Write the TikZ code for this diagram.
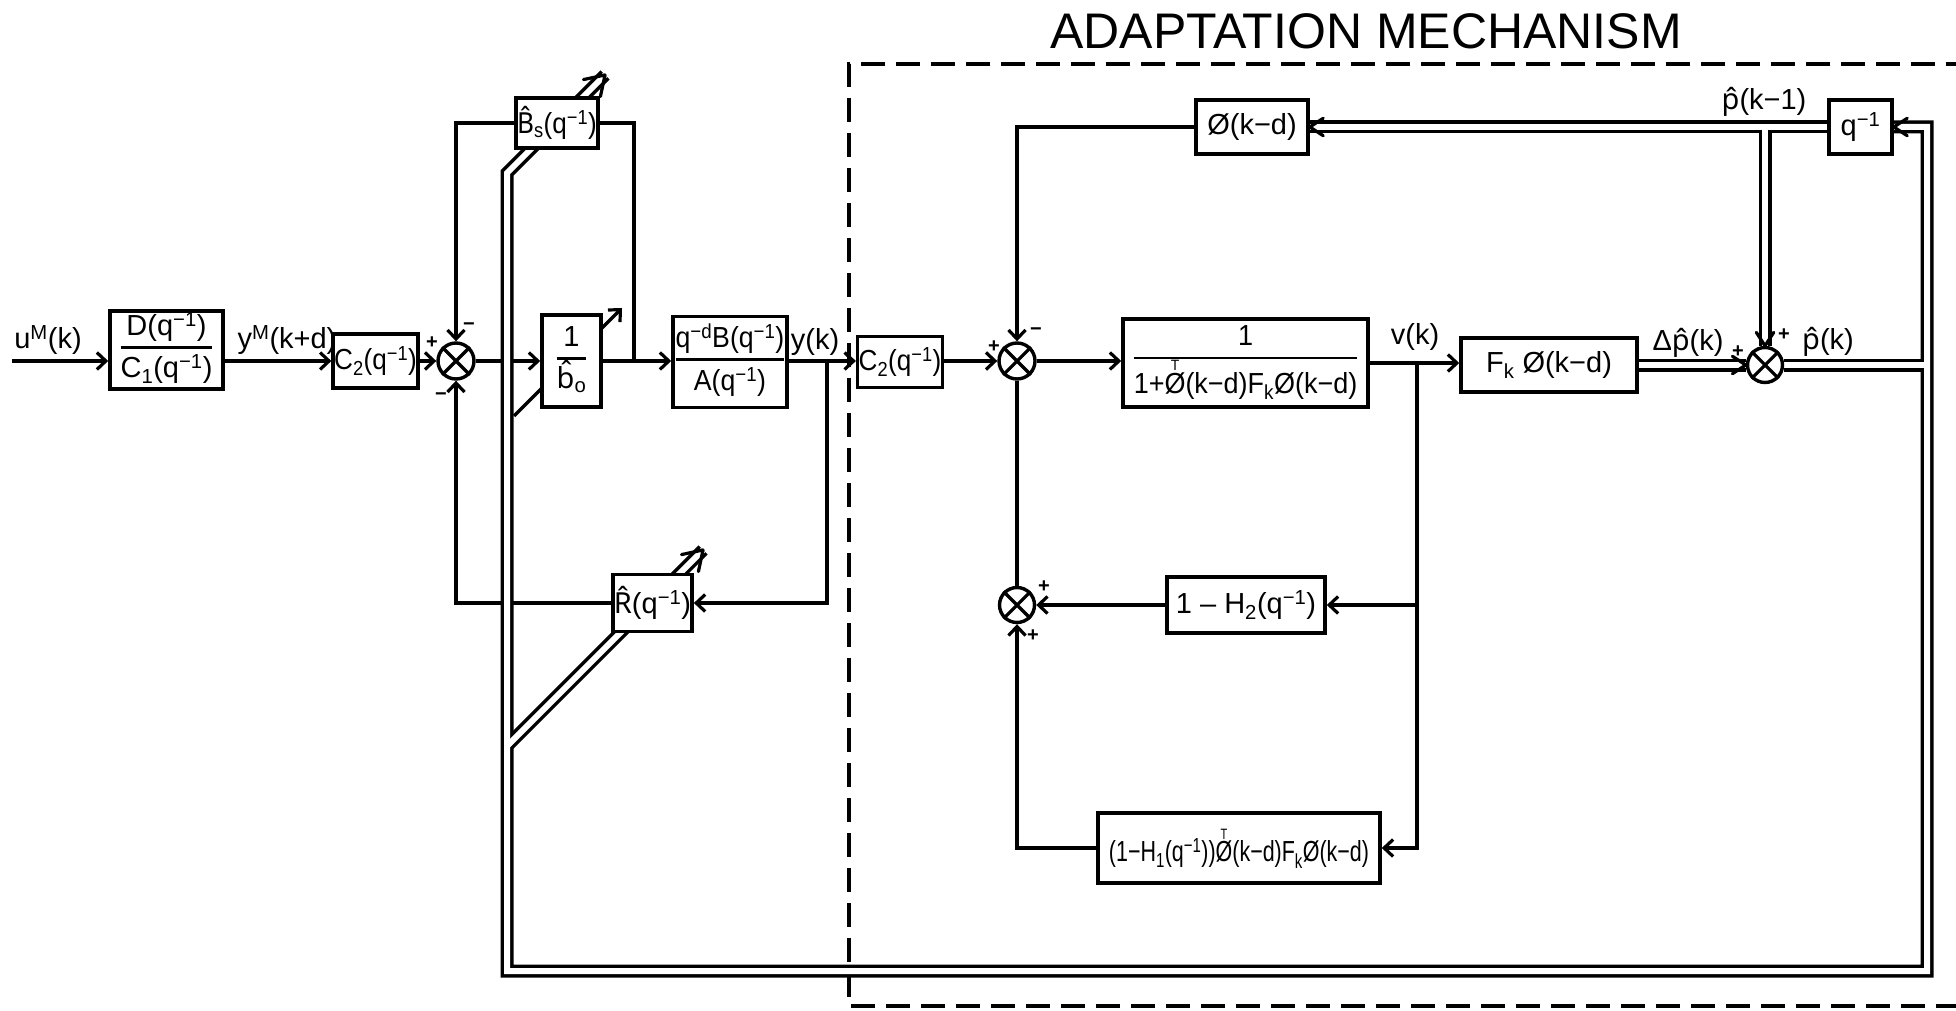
\documentclass[tikz,border=0pt]{standalone}
\usepackage{fontspec}
\setmainfont{Liberation Sans}
\newfontfamily\accfont{Noto Sans}
\usetikzlibrary{arrows.meta,calc,backgrounds}
\setlength\arrayrulewidth{2.8pt}
\newcommand\fr[2]{\begin{tabular}{@{}c@{}}#1\\[1pt]\hline\rule{0pt}{1.0em}#2\end{tabular}}
\newcommand\hatt[1]{{\accfont #1\char"0302}}
\newcommand\inv{\textsuperscript{−1}}
\newcommand\phT{\ensuremath{\stackrel{\mbox{\fontsize{15}{15}\selectfont T}}{\mbox{Ø}}}}
\newcommand\barb[3]{\draw[line width=3.2pt, line cap=round] (#1) -- ++({#2+180+33}:#3) (#1) -- ++({#2+180-33}:#3);}
\tikzset{
  blk/.style={draw, line width=3.6pt, fill=white, inner sep=1pt, font=\fontsize{29}{33}\selectfont},
  sumn/.style={draw, circle, line width=3.4pt, minimum size=36pt, inner sep=0pt, fill=white},
  wire/.style={line width=3.2pt},
  arr/.style={wire, -{Straight Barb[length=9pt,width=17pt]}},
  lbl/.style={font=\fontsize{29}{33}\selectfont, inner sep=0pt},
  sgn/.style={font=\fontsize{20}{20}\selectfont\bfseries, inner sep=0pt},
  dblk/.style={line width=13pt, line join=miter, line cap=butt},
  dblw/.style={white, line width=6pt, line join=miter, line cap=butt},
}
\begin{document}
\begin{tikzpicture}[x=1pt,y=-1pt]
\useasboundingbox (0,0) rectangle (1956,1011);
% title
\node[font=\fontsize{50}{50}\selectfont, inner sep=0pt] (title) at (1366,31) {ADAPTATION MECHANISM};

% blocks
\node[blk, minimum width=113pt, minimum height=70pt] (DC) at (166.5,350) {\fr{D(q\inv)}{C\textsubscript{1}(q\inv)}};
\node[blk, minimum width=75pt, minimum height=54pt] (C2a) at (375.5,361) {\scalebox{0.9}[1]{C\textsubscript{2}(q\inv)}};
\node[sumn] (S1) at (456,361) {};
\node[blk, minimum width=59pt, minimum height=92pt] (binv) at (571.5,361) {\fr{1}{\hatt{b}\textsubscript{o}}};
\node[blk, minimum width=78pt, minimum height=50pt] (Bs) at (557,123) {\scalebox{0.9}[1]{\hatt{B}\textsubscript{s}(q\inv)}};
\node[blk, minimum width=114pt, minimum height=91pt] (P) at (730,362) {\scalebox{0.92}[1]{\fr{q\textsuperscript{−d}B(q\inv)}{A(q\inv)}}};
\node[blk, minimum width=79pt, minimum height=57pt] (R) at (652.5,603) {\hatt{R}(q\inv)};
\node[blk, minimum width=76pt, minimum height=51pt] (C2b) at (900,362) {\scalebox{0.9}[1]{C\textsubscript{2}(q\inv)}};
\node[sumn] (S2) at (1017,361) {};
\node[blk, minimum width=245pt, minimum height=88pt] (G) at (1245.5,363) {\scalebox{0.93}[1]{\fr{1}{1+\phT(k−d)F\textsubscript{k}Ø(k−d)}}};
\node[blk, minimum width=176pt, minimum height=54pt] (Fk) at (1549,365) {F\textsubscript{k} Ø(k−d)};
\node[sumn, minimum size=35pt] (S4) at (1765,365) {};
\node[blk, minimum width=112pt, minimum height=54pt] (phi) at (1252,127) {Ø(k−d)};
\node[blk, minimum width=63pt, minimum height=54pt] (q) at (1860.5,127) {q\textsuperscript{−1}};
\node[blk, minimum width=158pt, minimum height=56pt] (H2) at (1246,605) {1 – H\textsubscript{2}(q\inv)};
\node[blk, minimum width=282pt, minimum height=70pt] (H1) at (1239,848) {\scalebox{0.74}[1]{(1−H\textsubscript{1}(q\inv))\phT(k−d)F\textsubscript{k}Ø(k−d)}};
\node[sumn, minimum size=35pt] (S3) at (1017,605) {};

% crosses in summing junctions
\foreach \s in {S1,S2,S3,S4}{
  \draw[line width=3.2pt] (\s.north east) -- (\s.south west) (\s.north west) -- (\s.south east);
}

% labels
\node[lbl] (lu) at (48,340) {u\textsuperscript{M}(k)};
\node[lbl] (lym) at (287,340) {y\textsuperscript{M}(k+d)};
\node[lbl] (lyk) at (815,342) {y(k)};
\node[lbl] (lvk) at (1415,337) {v(k)};
\node[lbl] (ldp) at (1688,343) {Δ\hatt{p}(k)};
\node[lbl] (lpk) at (1828,342) {\hatt{p}(k)};
\node[lbl] (lpk1) at (1764,102) {\hatt{p}(k−1)};

% signs
\node[sgn] at (432,343) {+};
\node[sgn] at (469,327) {−};
\node[sgn] at (441,397) {−};
\node[sgn] at (994,347) {+};
\node[sgn] at (1036,332) {−};
\node[sgn] at (1044,587) {+};
\node[sgn] at (1033,636) {+};
\node[sgn] at (1738,352) {+};
\node[sgn] at (1784,335) {+};

\begin{pgfonlayer}{background}
  % dashed frame of the adaptation mechanism
  \draw[line width=3.8pt, dash pattern=on 24pt off 11pt] (1970,64) -- (849,64) -- (849,1006) -- (1970,1006);

  % single connectors
  \coordinate (uin) at (12,361);
  \draw[arr] (uin) -- (DC.west |- uin);
  \draw[arr] (DC.east |- uin) -- (C2a.west |- uin);
  \draw[arr] (C2a.east |- uin) -- (S1.west);
  \draw[arr] (S1.east) -- (binv.west |- S1.east);
  \draw[arr] (binv.east |- S1) -- (P.west |- S1);
  \coordinate (jB) at (634,361);
  \draw[wire] (jB) |- (Bs.east);
  \draw[arr] (Bs.west) -| (S1.north);
  \draw[arr] (P.east |- S1) -- (C2b.west |- S1);
  \coordinate (jY) at (827,361);
  \draw[arr] (jY) |- (R.east);
  \draw[arr] (R.west) -| (S1.south);
  \draw[arr] (C2b.east |- S1) -- (S2.west);
  \draw[arr] (S2.east) -- (G.west |- S2);
  \draw[arr] (G.east) -- (Fk.west |- G.east);
  \coordinate (jV) at (1417,363);
  \draw[arr] (jV) |- (H1.east);
  \draw[arr] (jV |- H2.east) -- (H2.east);
  \draw[arr] (H2.west) -- (S3.east);
  \draw[arr] (H1.west) -| (S3.south);
  \draw[wire] (S3.north) -- (S2.south);
  \draw[arr] (phi.west) -| (S2.north);

  % double (parameter) lines
  \coordinate (cTR) at (1927,127);
  \coordinate (cBR) at (1927,971);
  \coordinate (cBL) at (507,971);
  \coordinate (cK) at (507,173);
  \coordinate (tipB) at (605,75);
  \coordinate (cR0) at (507,746);
  \coordinate (tipR) at (703,550);
  \coordinate (cJ) at (1765,127);
  \coordinate (cT) at (1927,365);
  \foreach \st in {dblk,dblw}{
    \draw[\st] (q.west) -- (phi.east);
    \draw[\st] (cJ) -- (S4.north);
    \draw[\st] (Fk.east |- S4) -- (S4.west);
    \draw[\st] (S4.east) -- (cT);
    \draw[\st] (q.east) -- (cTR) -- (cBR) -- (cBL) -- (cK) -- (tipB);
    \draw[\st] (cR0) -- (tipR);
  }
  \coordinate (adj0) at (514,416);
  \coordinate (adj1) at (622,308);
  \draw[arr] (adj0) -- (adj1);
\end{pgfonlayer}

% arrow heads of the double lines
\barb{phi.east}{180}{16}
\barb{q.east}{180}{16}
\barb{S4.north}{90}{16}
\barb{S4.west}{0}{16}
\barb{tipB}{-45}{22}
\barb{tipR}{-45}{22}
\end{tikzpicture}
\end{document}
